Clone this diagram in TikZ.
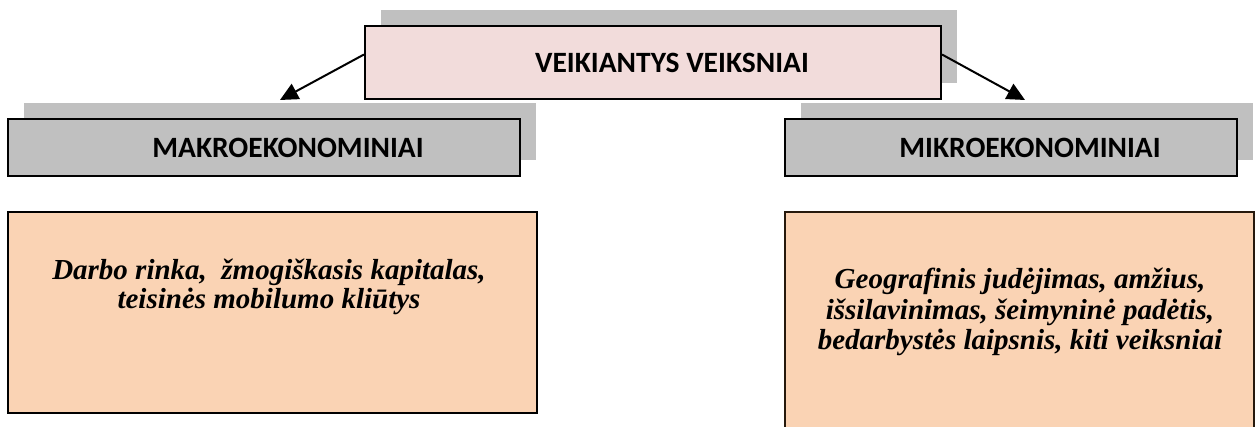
\documentclass[tikz,border=0pt]{standalone}
\usepackage{fontspec}
\newfontfamily\calibri{Carlito}
\newfontfamily\tnr{Liberation Serif}
\usetikzlibrary{arrows.meta,shadows}
\definecolor{pinkfill}{HTML}{F2DCDB}
\definecolor{greyfill}{HTML}{C0C0C0}
\definecolor{orangefill}{HTML}{FAD3B4}
\tikzset{
  shadowed/.style={general shadow={fill=greyfill, shadow xshift=16pt, shadow yshift=16pt}},
  box/.style={draw=black, line width=2pt, inner sep=0pt},
  headtext/.style={font=\calibri\bfseries\fontsize{29.5}{34}\selectfont, inner sep=0pt},
  bodytext/.style={font=\tnr\bfseries\itshape\fontsize{29}{29}\selectfont, align=center, inner sep=0pt},
  arr/.style={line width=2pt, -{Triangle[length=18pt,width=17pt]}}
}
\begin{document}
\begin{tikzpicture}[x=1pt,y=-1pt]
\clip (0,0) rectangle (1255,427);
\fill[white] (0,0) rectangle (1255,427);
% top box
\node[box, shadowed, fill=pinkfill, minimum width=576pt, minimum height=73pt] (top) at (653,62.5) {};
\node[headtext] (toptext) at (672,63) {VEIKIANTYS VEIKSNIAI};
% grey boxes
\node[box, shadowed, fill=greyfill, minimum width=512pt, minimum height=57pt] (makro) at (264,147.5) {};
\node[headtext] (makrotext) at (288,148) {MAKROEKONOMINIAI};
\node[box, shadowed, fill=greyfill, minimum width=452pt, minimum height=57pt] (mikro) at (1011,147.5) {};
\node[headtext] (mikrotext) at (1030,148) {MIKROEKONOMINIAI};
% orange boxes
\node[box, line width=1.6pt, fill=orangefill, minimum width=529pt, minimum height=201pt] (lbox) at (272.5,312.5) {};
\node[bodytext, anchor=base] (ltext) at (269,309) {Darbo rinka,\ \ žmogiškasis kapitalas,\\teisinės mobilumo kliūtys};
\node[box, line width=1.6pt, draw=black!80!brown, fill=orangefill, minimum width=469pt, minimum height=240pt] (rbox) at (1019.5,332) {};
\node[bodytext, anchor=base, font=\tnr\bfseries\itshape\fontsize{29}{31}\selectfont] (rtext) at (1020,350) {Geografinis judėjimas, amžius,\\išsilavinimas, šeimyninė padėtis,\\bedarbystės laipsnis, kiti veiksniai};
% arrows
\coordinate (ltip) at (280,100);
\coordinate (rtip) at (1025,100);
\draw[arr] ([yshift=8pt]top.west) -- (ltip);
\draw[arr] ([yshift=8pt]top.east) -- (rtip);
\end{tikzpicture}
\end{document}
